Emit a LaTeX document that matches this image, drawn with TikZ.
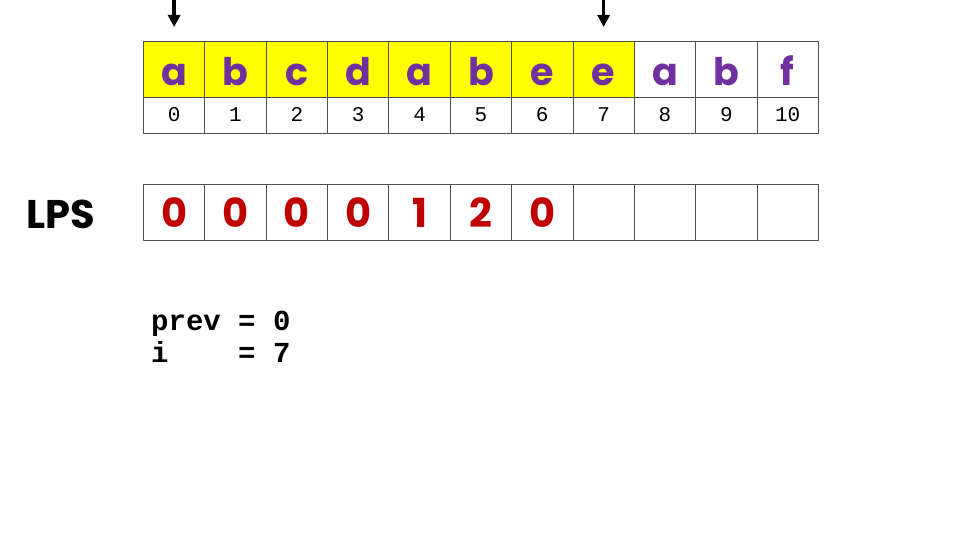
\documentclass[tikz,border=0pt]{standalone}
\usepackage{fontspec}
\setmonofont{Liberation Mono}
\newfontfamily\comicfont{Poppins}
\usetikzlibrary{arrows.meta}
\definecolor{letterpurple}{RGB}{112,48,160}
\definecolor{lpsred}{RGB}{192,0,0}
\definecolor{cellyellow}{RGB}{255,255,0}
\definecolor{gridgray}{RGB}{80,80,80}
\begin{document}
\begin{tikzpicture}[x=1pt,y=-1pt,line join=round,>={Triangle[width=12pt,length=12pt]}]
	\tikzset{cell/.style={draw=gridgray,line width=0.9pt,minimum width=61.36pt,inner sep=0pt,anchor=north west},
		charcell/.style={cell,minimum height=56pt,text=letterpurple,font=\comicfont\bfseries\fontsize{38}{40}\selectfont,text height=32pt,text depth=0pt},
		idxcell/.style={cell,minimum height=36pt,font=\ttfamily\fontsize{21}{24}\selectfont,text height=12pt,text depth=0pt},
		lpscell/.style={cell,minimum height=56pt,text=lpsred,font=\comicfont\bfseries\fontsize{40}{42}\selectfont,text height=30pt,text depth=0pt},
		codeline/.style={anchor=base west,inner sep=0pt,font=\ttfamily\bfseries\fontsize{29}{32}\selectfont}}
	\useasboundingbox (0,0) rectangle (960,540);
	% string, indices and lps table
	\foreach \c [count=\i from 0] in {a,b,c,d,a,b,e,e,a,b,f}{
		\ifnum\i<8
			\node[charcell,fill=cellyellow] (s\i) at ({143+61.36*\i},41) {\c};
		\else
			\node[charcell] (s\i) at ({143+61.36*\i},41) {\c};
		\fi
		\node[idxcell] (n\i) at ({143+61.36*\i},97) {\i};
	}
	\foreach \v [count=\i from 0] in {0,0,0,0,1,2,0,{},{},{},{}}
		\node[lpscell] (l\i) at ({143+61.36*\i},184) {\v};
	\node[font=\comicfont\bfseries\fontsize{40}{42}\selectfont,anchor=base,inner sep=0pt] (lpslabel) at (61,228) {LPS};
	% pointers
	\coordinate (ptrprev) at (s0.north |- 0,0);
	\coordinate (ptri) at (s7.north |- 0,0);
	\draw[->,line width=3.4pt] (ptrprev) -- ([yshift=14pt]s0.north);
	\draw[->,line width=3.4pt] (ptri) -- ([yshift=14pt]s7.north);
	% variables
	\node[codeline] (prevline) at (151,330) {prev = 0};
	\node[codeline] (iline) at (151,362) {i\ \ \ \ = 7};
\end{tikzpicture}
\end{document}
